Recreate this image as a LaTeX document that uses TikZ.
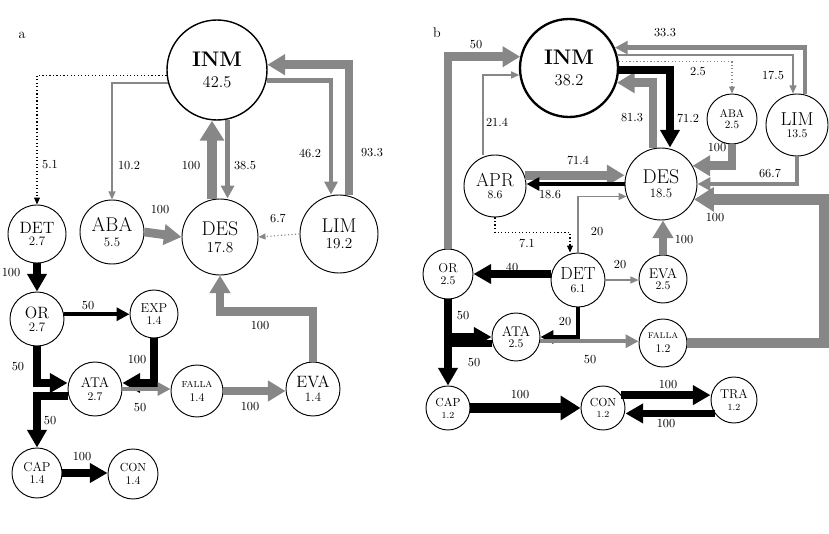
\documentclass[tikz,border=0pt]{standalone}
\usepackage{tikz}
\usetikzlibrary{arrows.meta,calc,positioning}
\definecolor{flowgray}{RGB}{135,135,135}
\begin{document}
\begin{tikzpicture}[x=0.03cm,y=-0.03cm,>=Triangle]

		% Styles for the states and flows
		\tikzset{st/.style={circle,draw,thick,fill=white,inner sep=0pt,align=center},
		lab/.style={font=\fontsize{10.5}{11}\selectfont},
		gv/.style={draw=flowgray,line width=9pt,-{Triangle[length=17pt,width=20pt]}},
		gw/.style={draw=flowgray,line width=7.5pt,-{Triangle[length=15pt,width=17pt]}},
		gm/.style={draw=flowgray,line width=3.6pt,-{Triangle[length=11pt,width=11pt]}},
		gt/.style={draw=flowgray,line width=1.3pt,-{Triangle[length=7pt,width=6pt]}},
		gd/.style={draw=flowgray,line width=1pt,dotted,-{Triangle[length=6pt,width=5pt]}},
		bv/.style={draw=black,line width=9pt,-{Triangle[length=17pt,width=20pt]}},
		bw/.style={draw=black,line width=6.5pt,-{Triangle[length=15pt,width=16pt]}},
		bm/.style={draw=black,line width=3.6pt,-{Triangle[length=11pt,width=11pt]}},
		bd/.style={draw=black,line width=1pt,dotted,-{Triangle[length=6pt,width=5pt]}}}
		\useasboundingbox (0,0) rectangle (829,534);

		% Panel a: states
		\node[font=\fontsize{12}{12}\selectfont] (pa) at (22,35) {a};
		\node[st,very thick,minimum size=3cm] (INMa) at (217,70) {\textbf{\fontsize{18}{18}\selectfont INM}\\[6pt]\fontsize{14}{14}\selectfont 42.5};
		\node[st,minimum size=2.28cm] (DESa) at (220,237) {\fontsize{17}{17}\selectfont DES\\[2pt]\fontsize{13}{13}\selectfont 17.8};
		\node[st,minimum size=1.92cm] (ABAa) at (112,232) {\fontsize{17}{17}\selectfont ABA\\[1pt]\fontsize{11}{11}\selectfont 5.5};
		\node[st,minimum size=2.34cm] (LIMa) at (339,234) {\fontsize{17}{17}\selectfont LIM\\[2pt]\fontsize{13}{13}\selectfont 19.2};
		\node[st,minimum size=1.74cm] (DETa) at (37,234) {\fontsize{14}{14}\selectfont DET\\[-1pt]\fontsize{11}{11}\selectfont 2.7};
		\node[st,minimum size=1.62cm] (ORa) at (37,319) {\fontsize{14}{14}\selectfont OR\\[-1pt]\fontsize{11}{11}\selectfont 2.7};
		\node[st,minimum size=1.44cm] (EXPa) at (154,314) {\fontsize{11}{11}\selectfont EXP\\[-2pt]\fontsize{10}{10}\selectfont 1.4};
		\node[st,minimum size=1.62cm] (ATAa) at (95,389) {\fontsize{12}{12}\selectfont ATA\\[-1pt]\fontsize{10}{10}\selectfont 2.7};
		\node[st,minimum size=1.56cm] (FALLAa) at (197,391) {\fontsize{7.5}{7.5}\selectfont FALLA\\[0pt]\fontsize{10}{10}\selectfont 1.4};
		\node[st,minimum size=1.62cm] (EVAa) at (313,389) {\fontsize{14}{14}\selectfont EVA\\[0pt]\fontsize{11}{11}\selectfont 1.4};
		\node[st,minimum size=1.5cm] (CAPa) at (37,473) {\fontsize{11}{11}\selectfont CAP\\[-2pt]\fontsize{10}{10}\selectfont 1.4};
		\node[st,minimum size=1.5cm] (CONa) at (133,474) {\fontsize{10}{10}\selectfont CON\\[-1pt]\fontsize{10}{10}\selectfont 1.4};

		% Panel a: flows
		\draw[bd] (INMa.186) -| (DETa.north);
		\draw[gt] (INMa.195) -| (ABAa.north);
		\draw[gv] (DESa.102) -- (DESa.102 |- INMa.south);
		\draw[gm] (INMa.282) -- (INMa.282 |- DESa.north);
		\draw[gm] (INMa.348) -| ($(LIMa.north)+(-8,0)$);
		\draw[gw] ($(LIMa.north)+(10,0)$) |- (INMa.6);
		\draw[gd] (LIMa.west) -- (DESa.east);
		\draw[gw] (ABAa.east) -- (DESa.west);
		\draw[bw] (DETa.south) -- (ORa.north);
		\draw[bm] (ORa.10) -- (ORa.10 -| EXPa.west);
		\draw[bw] (ORa.south) |- ($(ATAa.west)+(0,-6)$);
		\draw[bw] (EXPa.south) |- ($(ATAa.east)+(0,-6)$);
		\draw[gm] (ATAa.east) -- (ATAa.east -| FALLAa.west);
		\draw[gw] (FALLAa.east) -- (FALLAa.east -| EVAa.west);
		\draw[gw] (EVAa.north) -- ++(0,-50) -| (DESa.south);
		\draw[bw] (ATAa.195) -| (CAPa.north);
		\draw[bw] (CAPa.east) -- (CAPa.east -| CONa.west);

		% Panel a: labels
		\node[lab] at (50,165) {5.1};
		\node[lab] at (129,166) {10.2};
		\node[lab] at (191,166) {100};
		\node[lab] at (245,166) {38.5};
		\node[lab] at (310,153) {46.2};
		\node[lab] at (372,153) {93.3};
		\node[lab] at (278,218) {6.7};
		\node[lab] at (160,210) {100};
		\node[lab] at (11,273) {100};
		\node[lab] at (88,306) {50};
		\node[lab] at (18,367) {50};
		\node[lab] at (137,360) {100};
		\node[lab] at (140,408) {50};
		\node[lab] at (250,407) {100};
		\node[lab] at (260,326) {100};
		\node[lab] at (50,421) {50};
		\node[lab] at (82,457) {100};

		% Panel b: states
		\node[font=\fontsize{12}{12}\selectfont] (pb) at (437,33) {b};
		\node[st,line width=2pt,minimum size=2.94cm] (INMb) at (569,68) {\textbf{\fontsize{18}{18}\selectfont INM}\\[6pt]\fontsize{14}{14}\selectfont 38.2};
		\node[st,minimum size=1.5cm] (ABAb) at (732,119) {\fontsize{9.5}{9.5}\selectfont ABA\\[-2pt]\fontsize{9.5}{9.5}\selectfont 2.5};
		\node[st,minimum size=1.86cm] (LIMb) at (797,125) {\fontsize{16}{16}\selectfont LIM\\[-2pt]\fontsize{10}{10}\selectfont 13.5};
		\node[st,minimum size=1.86cm] (APRb) at (495,186) {\fontsize{16}{16}\selectfont APR\\[-1pt]\fontsize{10}{10}\selectfont 8.6};
		\node[st,minimum size=2.16cm] (DESb) at (661,184) {\fontsize{17}{17}\selectfont DES\\[0pt]\fontsize{11}{11}\selectfont 18.5};
		\node[st,minimum size=1.5cm] (ORb) at (448,274) {\fontsize{11}{11}\selectfont OR\\[-2pt]\fontsize{10}{10}\selectfont 2.5};
		\node[st,minimum size=1.62cm] (DETb) at (578,280) {\fontsize{15}{15}\selectfont DET\\[-1pt]\fontsize{10}{10}\selectfont 6.1};
		\node[st,minimum size=1.44cm] (EVAb) at (663,279) {\fontsize{12}{12}\selectfont EVA\\[-2pt]\fontsize{10}{10}\selectfont 2.5};
		\node[st,minimum size=1.44cm] (ATAb) at (516,337) {\fontsize{12}{12}\selectfont ATA\\[-2pt]\fontsize{10}{10}\selectfont 2.5};
		\node[st,minimum size=1.44cm] (FALLAb) at (663,343) {\fontsize{7}{7}\selectfont FALLA\\[0pt]\fontsize{10}{10}\selectfont 1.2};
		\node[st,minimum size=1.32cm] (CAPb) at (448,408) {\fontsize{10}{10}\selectfont CAP\\[-2pt]\fontsize{8}{8}\selectfont 1.2};
		\node[st,minimum size=1.32cm] (CONb) at (603,408) {\fontsize{10}{10}\selectfont CON\\[-2pt]\fontsize{8}{8}\selectfont 1.2};
		\node[st,minimum size=1.38cm] (TRAb) at (734,400) {\fontsize{11}{11}\selectfont TRA\\[-2pt]\fontsize{8}{8}\selectfont 1.2};

		% Panel b: flows
		\draw[gw] (ORb.north) |- (INMb.167);
		\draw[gt] ($(APRb.north)+(-12,0)$) |- (INMb.188);
		\draw[gw] ($(DESb.north)+(-8,0)$) |- (INMb.343);
		\draw[bw] (INMb.358) -| ($(DESb.north)+(9,0)$);
		\draw[gd] (INMb.7) -| (ABAb.north);
		\draw[gt] (INMb.15) -| ($(LIMb.north)+(-4,0)$);
		\draw[gm] ($(LIMb.north)+(8,0)$) |- (INMb.24);
		\draw[gw] (ABAb.south) |- (DESb.30);
		\draw[gm] (LIMb.south) |- (DESb.east);
		\draw[gw] (APRb.20) -- (APRb.20 -| DESb.west);
		\draw[bm] (DESb.west) -- (DESb.west -| APRb.east);
		\draw[gt] (DETb.north) |- (DESb.200);
		\draw[bd] (APRb.south) -- ++(0,15) -| ($(DETb.north)+(-8,0)$);
		\draw[gw] (EVAb.north) -- (EVAb.north |- DESb.south);
		\draw[bw] (ORb.east -| DETb.west) -- (ORb.east);
		\draw[gt] (DETb.east) -- (DETb.east -| EVAb.west);
		\draw[bm] (DETb.south) |- (ATAb.east);
		\draw[bw] (ORb.south) |- (ATAb.west);
		\draw[gm] (ATAb.350) -- (ATAb.350 -| FALLAb.west);
		\draw[gv] (FALLAb.east) -- ++(137,0) |- (DESb.335);
		\draw[bw] (ATAb.195) -| (CAPb.north);
		\draw[bv] (CAPb.east) -- (CONb.west);
		\draw[bw] (CONb.35) -- (CONb.35 -| TRAb.west);
		\draw[bw] (TRAb.215) -- (TRAb.215 -| CONb.east);

		% Panel b: labels
		\node[lab] at (476,45) {50};
		\node[lab] at (497,122) {21.4};
		\node[lab] at (632,118) {81.3};
		\node[lab] at (688,118) {71.2};
		\node[lab] at (698,72) {2.5};
		\node[lab] at (773,75) {17.5};
		\node[lab] at (665,33) {33.3};
		\node[lab] at (717,148) {100};
		\node[lab] at (770,173) {66.7};
		\node[lab] at (578,160) {71.4};
		\node[lab] at (550,195) {18.6};
		\node[lab] at (597,232) {20};
		\node[lab] at (527,243) {7.1};
		\node[lab] at (684,240) {100};
		\node[lab] at (512,267) {40};
		\node[lab] at (620,265) {20};
		\node[lab] at (565,322) {20};
		\node[lab] at (463,316) {50};
		\node[lab] at (590,360) {50};
		\node[lab] at (715,218) {100};
		\node[lab] at (474,363) {50};
		\node[lab] at (520,395) {100};
		\node[lab] at (668,385) {100};
		\node[lab] at (666,424) {100};

	\end{tikzpicture}
\end{document}
